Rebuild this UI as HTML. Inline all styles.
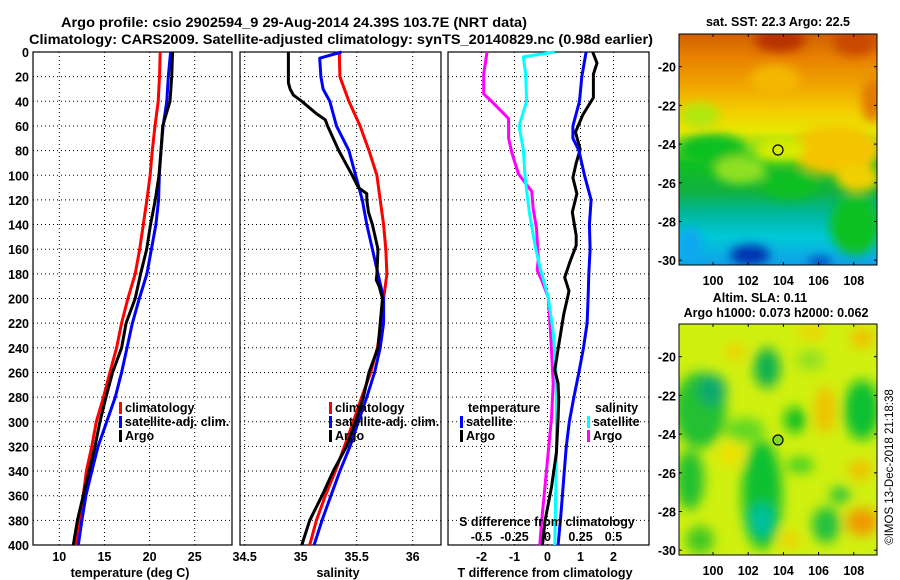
<!DOCTYPE html>
<html><head><meta charset="utf-8"><style>
html,body{margin:0;padding:0;background:#fff;}
svg{display:block;font-family:"Liberation Sans",sans-serif;font-weight:bold;}
</style></head><body>
<svg id="fig" width="900" height="580" viewBox="0 0 900 580">
<defs>
<filter id="blur1" x="-20%" y="-20%" width="140%" height="140%"><feGaussianBlur stdDeviation="5"/></filter>
<filter id="blur2" x="-20%" y="-20%" width="140%" height="140%"><feGaussianBlur stdDeviation="6"/></filter>
<clipPath id="clipTop"><rect x="679" y="34" width="198" height="231"/></clipPath>
<clipPath id="clipBot"><rect x="679" y="324" width="198" height="231"/></clipPath>
<linearGradient id="sstGrad" x1="0" y1="0" x2="0" y2="1">
<stop offset="0" stop-color="#d06000"/><stop offset="0.1" stop-color="#e88000"/><stop offset="0.22" stop-color="#f0a400"/>
<stop offset="0.33" stop-color="#f4cc00"/><stop offset="0.42" stop-color="#e8e800"/><stop offset="0.5" stop-color="#70d820"/>
<stop offset="0.56" stop-color="#10c020"/><stop offset="0.68" stop-color="#10b040"/><stop offset="0.78" stop-color="#00b8a0"/>
<stop offset="0.88" stop-color="#00c8d8"/><stop offset="1" stop-color="#10a0e8"/></linearGradient>
</defs>
<text x="294" y="27" font-size="14" text-anchor="middle" textLength="466" lengthAdjust="spacingAndGlyphs">Argo profile: csio 2902594_9 29-Aug-2014 24.39S 103.7E (NRT data)</text>
<text x="341" y="44" font-size="14" text-anchor="middle" textLength="624" lengthAdjust="spacingAndGlyphs">Climatology: CARS2009. Satellite-adjusted climatology: synTS_20140829.nc (0.98d earlier)</text>

<g id="p1"></g>
<g id="p2"></g>
<g id="p3"></g>

<!-- SST map -->
<g>
<text x="778" y="26" font-size="12.5" text-anchor="middle">sat. SST: 22.3 Argo: 22.5</text>
<g clip-path="url(#clipTop)">
<rect x="679" y="34" width="198" height="231" fill="url(#sstGrad)"/>
<g filter="url(#blur1)">
<ellipse cx="780" cy="40" rx="25" ry="12" fill="#b83000"/>
<ellipse cx="855" cy="42" rx="22" ry="14" fill="#c84a00"/>
<ellipse cx="872" cy="100" rx="10" ry="22" fill="#e07800"/>
<ellipse cx="775" cy="80" rx="25" ry="15" fill="#f4b800"/>
<ellipse cx="835" cy="150" rx="45" ry="25" fill="#f4c400"/>
<ellipse cx="858" cy="178" rx="22" ry="14" fill="#f0d000"/>
<ellipse cx="780" cy="150" rx="25" ry="12" fill="#d8ec00"/>
<ellipse cx="700" cy="115" rx="20" ry="12" fill="#b0e810"/>
<ellipse cx="712" cy="150" rx="34" ry="16" fill="#10c020"/>
<ellipse cx="740" cy="170" rx="26" ry="14" fill="#90e020"/>
<ellipse cx="790" cy="185" rx="30" ry="14" fill="#10c020"/>
<ellipse cx="855" cy="225" rx="25" ry="30" fill="#10c020"/>
<ellipse cx="750" cy="255" rx="20" ry="10" fill="#0030b0"/>
<ellipse cx="820" cy="262" rx="12" ry="5" fill="#0040c0"/>
<ellipse cx="690" cy="245" rx="12" ry="18" fill="#10a8f0"/>
</g>
</g>
<rect x="679" y="34" width="198" height="231" fill="none" stroke="#000" stroke-width="1"/>
<circle cx="778" cy="150" r="5" fill="none" stroke="#000" stroke-width="1.2"/>
</g>

<!-- SLA map -->
<g>
<text x="760" y="302" font-size="12.5" text-anchor="middle">Altim. SLA: 0.11</text>
<text x="776" y="317" font-size="12.5" text-anchor="middle">Argo h1000: 0.073 h2000: 0.062</text>
<g clip-path="url(#clipBot)">
<rect x="679" y="324" width="198" height="231" fill="#d0f010"/>
<g filter="url(#blur2)">
<ellipse cx="700" cy="410" rx="26" ry="38" fill="#20c030"/>
<ellipse cx="712" cy="390" rx="14" ry="16" fill="#10a870"/>
<ellipse cx="690" cy="480" rx="14" ry="30" fill="#20c030"/>
<ellipse cx="700" cy="540" rx="14" ry="14" fill="#40c820"/>
<ellipse cx="767" cy="368" rx="13" ry="20" fill="#10b050"/>
<ellipse cx="762" cy="495" rx="20" ry="55" fill="#10c030"/>
<ellipse cx="762" cy="520" rx="12" ry="16" fill="#00c0a0"/>
<ellipse cx="795" cy="420" rx="11" ry="13" fill="#10c020"/>
<ellipse cx="800" cy="465" rx="14" ry="8" fill="#40d020"/>
<ellipse cx="862" cy="410" rx="18" ry="30" fill="#10c030"/>
<ellipse cx="826" cy="525" rx="14" ry="18" fill="#20c040"/>
<ellipse cx="840" cy="495" rx="10" ry="8" fill="#20c040"/>
<ellipse cx="745" cy="430" rx="20" ry="12" fill="#60d820"/>
<ellipse cx="810" cy="360" rx="14" ry="10" fill="#90e020"/>
<ellipse cx="862" cy="522" rx="16" ry="14" fill="#f09800"/>
<ellipse cx="825" cy="410" rx="10" ry="24" fill="#f0c000"/>
<ellipse cx="731" cy="454" rx="12" ry="12" fill="#f0e000"/>
<ellipse cx="735" cy="352" rx="10" ry="8" fill="#f0d000"/>
<ellipse cx="862" cy="338" rx="12" ry="10" fill="#f0c000"/>
<ellipse cx="812" cy="332" rx="14" ry="7" fill="#f0d000"/>
<ellipse cx="860" cy="470" rx="12" ry="10" fill="#f0c000"/>
<ellipse cx="790" cy="540" rx="10" ry="8" fill="#f0d000"/>
</g>
</g>
<rect x="679" y="324" width="198" height="231" fill="none" stroke="#000" stroke-width="1"/>
<circle cx="778" cy="440" r="5" fill="#80d820" stroke="#000" stroke-width="1.2"/>
</g>
<text transform="translate(893,467) rotate(-90)" font-size="11.5" font-weight="normal" text-anchor="middle">©IMOS 13-Dec-2018 21:18:38</text>
<g id="maplabels"></g>
</svg>
<script>
// ---------- data ----------
const depthTicks = [0,20,40,60,80,100,120,140,160,180,200,220,240,260,280,300,320,340,360,380,400];
const tempTicks = [10,15,20,25];
const salTicks = [34.5,35,35.5,36];
const tdTicks = [-2,-1,0,1,2];
const sdTicks = [-0.5,-0.25,0,0.25,0.5];
const sdTickLabels = ["-0.5","-0.25","0","0.25","0.5"];
const latTicks = [-20,-22,-24,-26,-28,-30];
const lonTicks = [100,102,104,106,108];

const depthStd = [0,20,40,60,80,100,120,140,160,180,200,220,240,260,280,300,320,340,360,380,400];
const tempClim = [21.17,21.1,20.95,20.6,20.3,20.05,19.7,19.3,18.9,18.4,17.6,16.9,16.35,15.6,14.9,14.1,13.6,13.0,12.65,12.2,11.85];
const tempSat  = [22.33,22.07,21.9,21.5,21.26,21.07,21.0,20.7,20.2,19.7,18.86,18.1,17.5,16.9,16.2,15.25,14.3,13.6,12.95,12.5,12.1];
const tempArgo = [22.55,22.45,22.26,21.45,21.26,21.04,20.63,20.1,19.68,19.0,18.4,17.4,16.9,15.9,15.17,14.5,13.95,13.3,12.65,12.0,11.55];

const salClim = [35.345,35.35,35.43,35.53,35.61,35.68,35.71,35.74,35.76,35.77,35.74,35.72,35.685,35.625,35.545,35.47,35.39,35.31,35.22,35.14,35.08];
const salSatDepth = [0,5,20,30,40,60,80,100,120,140,160,180,200,220,240,260,280,300,320,340,360,380,400];
const salSat = [35.365,35.17,35.18,35.20,35.26,35.32,35.43,35.49,35.55,35.59,35.64,35.69,35.74,35.74,35.71,35.66,35.59,35.515,35.44,35.35,35.27,35.19,35.12];
const salArgoDepth = [0,25,30,35,40,50,55,60,80,100,110,115,120,130,140,160,180,185,190,200,220,240,260,280,300,320,340,360,380,400];
const salArgo = [34.89,34.89,34.905,34.935,35.01,35.14,35.22,35.24,35.34,35.46,35.515,35.59,35.59,35.605,35.64,35.69,35.68,35.675,35.70,35.73,35.71,35.69,35.61,35.56,35.49,35.41,35.29,35.19,35.08,35.01];

const tdSatDepth = [0,20,40,60,70,80,100,120,140,160,180,200,220,240,260,280,300,320,340,360,380,400];
const tdSat = [1.17,1.04,0.97,0.77,0.77,0.95,1.12,1.32,1.27,1.29,1.25,1.23,1.2,1.09,0.95,0.80,0.66,0.57,0.51,0.45,0.39,0.32];
const tdArgoDepth = [0,9,18,37,51,65,79,90,102,115,130,149,157,171,183,194,213,241,258,269,283,297,325,353,381,400];
const tdArgo = [1.37,1.5,1.39,1.39,1.07,0.85,0.99,0.87,0.77,0.89,0.75,0.87,0.87,0.67,0.52,0.65,0.49,0.32,0.22,0.32,0.34,0.32,0.27,0.12,-0.08,-0.15];
const sdSatDepth = [0,4,18,40,60,79,102,130,157,174,199,227,255,283,325,353,400];
const sdSat = [0.055,-0.183,-0.165,-0.158,-0.215,-0.183,-0.17,-0.138,-0.095,-0.058,0.005,0.043,0.063,0.068,0.068,0.063,0.055];
const sdArgoDepth = [0,18,34,39,54,70,82,99,113,127,143,168,177,185,199,227,269,297,325,353,381,400];
const sdArgo = [-0.458,-0.483,-0.483,-0.433,-0.295,-0.295,-0.27,-0.22,-0.12,-0.108,-0.083,-0.07,-0.078,-0.045,0.005,0.023,0.043,0.03,0.005,-0.02,-0.045,-0.058];

// ---------- helpers ----------
const NS = "http://www.w3.org/2000/svg";
function mk(tag, attrs, parent){ const e=document.createElementNS(NS,tag); for(const k in attrs) e.setAttribute(k,attrs[k]); parent.appendChild(e); return e; }
const Y0=52, Y1=545;
const yD = d => Y0 + d*(Y1-Y0)/400;
const p1 = {x0:33,x1:232, sx:v=>59.3+(v-10)*9.03};
const p2 = {x0:240,x1:441, sx:v=>300.7+(v-35)*112};
const p3 = {x0:448,x1:649, sx:v=>547.5+v*33};
const sxS = v => 547.5 + v*132;

function frame(g, p, ticks, fmt){
  mk('rect',{x:p.x0,y:Y0,width:p.x1-p.x0,height:Y1-Y0,fill:'#fff'},g);
  depthTicks.forEach(d=>{ if(d>0&&d<400){ const l=mk('line',{x1:p.x0,x2:p.x1,y1:yD(d),y2:yD(d),stroke:'#000','stroke-width':1,'stroke-dasharray':'1,3'},g);
      }});
  ticks.forEach((t,i)=>{ const x=p.sx(t);
    if(x>p.x0+3 && x<p.x1-3){ const l=mk('line',{x1:x,x2:x,y1:Y0,y2:Y1,stroke:'#000','stroke-width':1,'stroke-dasharray':'1,3'},g);
        }
    const tx=mk('text',{x:x,y:561,'font-size':12.5,'text-anchor':'middle'},g); tx.textContent=fmt(t,i);
     
  });
  mk('rect',{x:p.x0,y:Y0,width:p.x1-p.x0,height:Y1-Y0,fill:'none',stroke:'#000','stroke-width':1.2},g);
}
function line(g, xs, ds, sx, color, name){
  const pts = xs.map((v,i)=>sx(v).toFixed(1)+','+yD(ds[i]).toFixed(1)).join(' ');
  const pl = mk('polyline',{points:pts,fill:'none',stroke:color,'stroke-width':3,'stroke-linejoin':'round'},g);
  
  
}
function legend(g, x, y, color, label, name){
  mk('rect',{x:x,y:y-10,width:3,height:12,fill:color},g);
  const t=mk('text',{x:x+6,y:y,'font-size':12.5},g); t.textContent=label;
  
  
}
function txt(g,x,y,s,anchor,size,name){ const t=mk('text',{x:x,y:y,'font-size':size||12.5,'text-anchor':anchor||'middle'},g); t.textContent=s;
  
   return t; }

// ---------- panel 1 ----------
const g1=document.getElementById('p1');
frame(g1,p1,tempTicks,t=>String(t));
depthTicks.forEach(d=>{ txt(g1,29,yD(d)+5,String(d),'end',12.5,'depth-tick-label'); });
line(g1,tempClim,depthStd,p1.sx,'#ff0000','temp-climatology-line');
line(g1,tempSat,depthStd,p1.sx,'#0000ff','temp-satellite-line');
line(g1,tempArgo,depthStd,p1.sx,'#000000','temp-argo-line');
legend(g1,119,412,'#ff0000','climatology','legend-climatology');
legend(g1,119,426,'#0000ff','satellite-adj. clim.','legend-satellite');
legend(g1,119,440,'#000000','Argo','legend-argo');
txt(g1,130,577,'temperature (deg C)','middle',12.5,'temperature-axis-title');

// ---------- panel 2 ----------
const g2=document.getElementById('p2');
frame(g2,p2,salTicks,t=>String(t));
line(g2,salClim,depthStd,p2.sx,'#ff0000','sal-climatology-line');
line(g2,salSat,salSatDepth,p2.sx,'#0000ff','sal-satellite-line');
line(g2,salArgo,salArgoDepth,p2.sx,'#000000','sal-argo-line');
legend(g2,329,412,'#ff0000','climatology','legend-climatology');
legend(g2,329,426,'#0000ff','satellite-adj. clim.','legend-satellite');
legend(g2,329,440,'#000000','Argo','legend-argo');
txt(g2,338,577,'salinity','middle',12.5,'salinity-axis-title');

// ---------- panel 3 ----------
const g3=document.getElementById('p3');
frame(g3,p3,tdTicks,t=>String(t));
line(g3,sdArgo,sdArgoDepth,sxS,'#ff00ff','sal-diff-argo-line');
line(g3,sdSat,sdSatDepth,sxS,'#00ffff','sal-diff-satellite-line');
line(g3,tdArgo,tdArgoDepth,p3.sx,'#000000','temp-diff-argo-line');
line(g3,tdSat,tdSatDepth,p3.sx,'#0000ff','temp-diff-satellite-line');
txt(g3,468,412,'temperature','start',12.5,'legend-temperature-header');
legend(g3,460,426,'#0000ff','satellite','legend-temp-satellite');
legend(g3,460,440,'#000000','Argo','legend-temp-argo');
txt(g3,595,412,'salinity','start',12.5,'legend-salinity-header');
legend(g3,587,426,'#00ffff','satellite','legend-sal-satellite');
legend(g3,587,440,'#ff00ff','Argo','legend-sal-argo');
txt(g3,547,526,'S difference from climatology','middle',12.5,'s-axis-title');
sdTicks.forEach((v,i)=>{ txt(g3,sxS(v),541,sdTickLabels[i],'middle',12.5,'s-tick-label'); });
txt(g3,545,577,'T difference from climatology','middle',12.5,'t-axis-title');

// ---------- map labels ----------
const gm=document.getElementById('maplabels');
const latY = (lat,top)=> top + (-20-lat)*19.35;
latTicks.forEach(l=>{ txt(gm,676,latY(l,66.7)+5,String(l),'end',12.5,'sst-lat-label');
  mk('line',{x1:679,x2:682,y1:latY(l,66.7),y2:latY(l,66.7),stroke:'#000'},gm);
  mk('line',{x1:874,x2:877,y1:latY(l,66.7),y2:latY(l,66.7),stroke:'#000'},gm);
  txt(gm,676,latY(l,356.7)+5,String(l),'end',12.5,'sla-lat-label');
  mk('line',{x1:679,x2:682,y1:latY(l,356.7),y2:latY(l,356.7),stroke:'#000'},gm);
  mk('line',{x1:874,x2:877,y1:latY(l,356.7),y2:latY(l,356.7),stroke:'#000'},gm); });
const lonX = lon => 713 + (lon-100)*17.6;
lonTicks.forEach(l=>{ txt(gm,lonX(l),285,String(l),'middle',12.5,'sst-lon-label');
  mk('line',{x1:lonX(l),x2:lonX(l),y1:262,y2:265,stroke:'#000'},gm);
  mk('line',{x1:lonX(l),x2:lonX(l),y1:34,y2:37,stroke:'#000'},gm);
  txt(gm,lonX(l),575,String(l),'middle',12.5,'sla-lon-label');
  mk('line',{x1:lonX(l),x2:lonX(l),y1:552,y2:555,stroke:'#000'},gm);
  mk('line',{x1:lonX(l),x2:lonX(l),y1:324,y2:327,stroke:'#000'},gm); });
</script>
</body></html>
